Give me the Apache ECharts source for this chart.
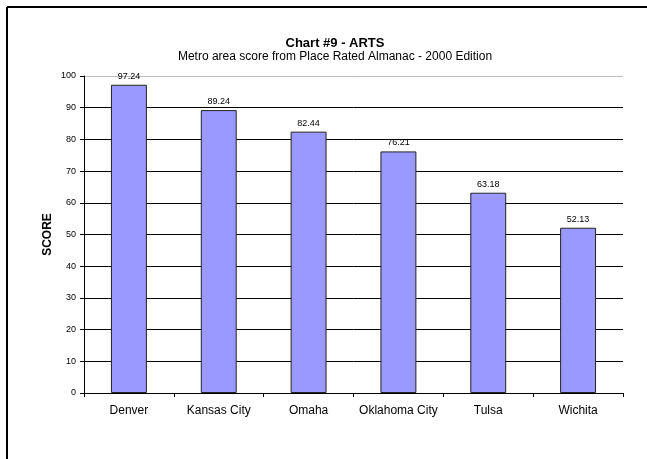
<!DOCTYPE html>
<html>
<head>
<meta charset="utf-8">
<script src="https://cdn.jsdelivr.net/npm/echarts@6/dist/echarts.min.js"></script>
<style>
html,body{margin:0;padding:0;background:#fff;}
#chart{width:647px;height:459px;}
</style>
</head>
<body>
<div id="chart"></div>
<script>
const categories = ['Denver', 'Kansas City', 'Omaha', 'Oklahoma City', 'Tulsa', 'Wichita'];
const scores = [97.24, 89.24, 82.44, 76.21, 63.18, 52.13];
const yTicks = [0, 10, 20, 30, 40, 50, 60, 70, 80, 90, 100];

const chart = echarts.init(document.getElementById('chart'), null, {renderer: 'canvas'});
const gridColors = yTicks.map((t, i) => i === yTicks.length - 1 ? '#bdbdbd' : '#000000');
chart.setOption({
  animation: false,
  backgroundColor: '#ffffff',
  title: {
    text: 'Chart #9 - ARTS',
    subtext: 'Metro area score from Place Rated Almanac - 2000 Edition',
    left: 330, textAlign: 'center', top: 32, itemGap: 1,
    textStyle: {fontFamily: 'Liberation Sans, Arial', fontSize: 13, fontWeight: 'bold', color: '#000'},
    subtextStyle: {fontFamily: 'Liberation Sans, Arial', fontSize: 12, color: '#000'}
  },
  graphic: [
    {type: 'line', shape: {x1: 7, y1: 7, x2: 647, y2: 7}, style: {stroke: '#000', lineWidth: 2}},
    {type: 'line', shape: {x1: 7, y1: 7, x2: 7, y2: 459}, style: {stroke: '#000', lineWidth: 2}}
  ],
  grid: {left: 84, right: 24, top: 76, bottom: 66},
  xAxis: {
    type: 'category', data: categories,
    axisLine: {show: true, lineStyle: {color: '#000', width: 1}},
    axisTick: {show: true, inside: false, length: 4, interval: 0, lineStyle: {color: '#000'}},
    axisLabel: {interval: 0, fontFamily: 'Liberation Sans, Arial', fontSize: 12, color: '#000', margin: 12}
  },
  yAxis: {
    type: 'value', min: 0, max: 100, interval: 10,
    name: 'SCORE', nameLocation: 'middle', nameGap: 30, nameRotate: 90, nameMoveOverlap: false,
    nameTextStyle: {fontFamily: 'Liberation Sans, Arial', fontSize: 12, fontWeight: 'bold', color: '#000'},
    axisLine: {show: true, lineStyle: {color: '#000', width: 1}},
    axisTick: {show: true, length: 4, lineStyle: {color: '#000'}},
    axisLabel: {fontFamily: 'Liberation Sans, Arial', fontSize: 9, color: '#000', margin: 8},
    splitLine: {show: true, lineStyle: {color: gridColors, width: 1}}
  },
  series: [{
    type: 'bar', data: scores, barWidth: '40%',
    itemStyle: {color: '#9999FF', borderColor: '#222', borderWidth: 1},
    label: {show: true, position: 'top', distance: 4, formatter: p => p.value.toFixed(2),
      fontFamily: 'Liberation Sans, Arial', fontSize: 9, color: '#000'}
  }]
});
</script>
</body>
</html>
